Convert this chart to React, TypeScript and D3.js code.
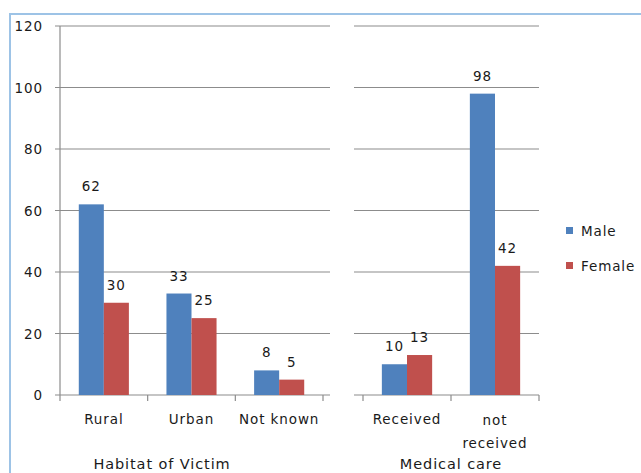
import React from "react";
import * as d3 from "d3";

// Victim counts by sex, in two panels
const habitatCategories = ["Rural", "Urban", "Not known"];
const habitatMale = [62, 33, 8];
const habitatFemale = [30, 25, 5];

const careCategories = ["Received", "not received"];
const careMale = [10, 98];
const careFemale = [13, 42];

const seriesNames = ["Male", "Female"];
const seriesColors = ["#4F81BD", "#C0504D"];
const yTicks = [0, 20, 40, 60, 80, 100, 120];

const W = 641;
const H = 473;
const FONT = "'DejaVu Sans', sans-serif";
const GRID = "#8c8c8c";

const y = d3.scaleLinear().domain([0, 120]).range([395, 26]);

type Panel = {
  cats: string[];
  male: number[];
  female: number[];
  bandRange: [number, number];
  gridRange: [number, number];
  title: string;
  titleX: number;
  yAxis: boolean;
};

const panels: Panel[] = [
  {
    cats: habitatCategories,
    male: habitatMale,
    female: habitatFemale,
    bandRange: [60, 323],
    gridRange: [55, 330],
    title: "Habitat of Victim",
    titleX: 162,
    yAxis: true,
  },
  {
    cats: careCategories,
    male: careMale,
    female: careFemale,
    bandRange: [363, 539],
    gridRange: [354, 539],
    title: "Medical care",
    titleX: 451,
    yAxis: false,
  },
];

const labelStyle = {
  fontFamily: FONT,
  fontSize: 13.5,
  letterSpacing: 0.9,
  fill: "#1a1a1a",
} as const;

function PanelView({ p }: { p: Panel }) {
  const x = d3.scaleBand().domain(p.cats).range(p.bandRange).paddingInner(0).paddingOuter(0);
  const bw = x.bandwidth();
  const barW = bw / 3.5;
  const inner = d3.scaleBand().domain(seriesNames).range([-barW, barW]);
  const values = [p.male, p.female];
  const boundaries = [...p.cats.map((c) => x(c) as number), p.bandRange[1]];

  return (
    <g>
      {/* gridlines */}
      {yTicks.map((t) => (
        <line
          key={t}
          x1={p.gridRange[0]}
          x2={p.gridRange[1]}
          y1={y(t)}
          y2={y(t)}
          stroke={GRID}
          strokeWidth={1.2}
        />
      ))}
      {/* y axis */}
      {p.yAxis && (
        <g>
          <line x1={60} x2={60} y1={y(120)} y2={y(0)} stroke={GRID} strokeWidth={1.2} />
          {yTicks.map((t) => (
            <text
              key={t}
              x={43}
              y={y(t)}
              textAnchor="end"
              dominantBaseline="central"
              style={labelStyle}
            >
              {t}
            </text>
          ))}
        </g>
      )}
      {/* category ticks */}
      {boundaries.map((bx, i) => (
        <line key={i} x1={bx} x2={bx} y1={y(0)} y2={y(0) + 6} stroke={GRID} strokeWidth={1.2} />
      ))}
      {/* bars and value labels */}
      {p.cats.map((c, ci) => {
        const cx = (x(c) as number) + bw / 2;
        return (
          <g key={c}>
            {seriesNames.map((s, si) => {
              const v = values[si][ci];
              const bx = cx + (inner(s) as number);
              return (
                <g key={s}>
                  <rect
                    x={bx}
                    y={y(v)}
                    width={inner.bandwidth()}
                    height={y(0) - y(v)}
                    fill={seriesColors[si]}
                  />
                  <text
                    x={bx + inner.bandwidth() / 2}
                    y={y(v) - 18}
                    textAnchor="middle"
                    dominantBaseline="central"
                    style={labelStyle}
                  >
                    {v}
                  </text>
                </g>
              );
            })}
            {c === "not received" ? (
              <text textAnchor="middle" style={labelStyle}>
                <tspan x={cx} y={420} dominantBaseline="central">not</tspan>
                <tspan x={cx} y={443} dominantBaseline="central">received</tspan>
              </text>
            ) : (
              <text x={cx} y={419} textAnchor="middle" dominantBaseline="central" style={labelStyle}>
                {c}
              </text>
            )}
          </g>
        );
      })}
      <text
        x={p.titleX}
        y={464}
        textAnchor="middle"
        dominantBaseline="central"
        style={{ ...labelStyle, fontSize: 14.5 }}
      >
        {p.title}
      </text>
    </g>
  );
}

export default function App() {
  return (
    <svg
      width={W}
      height={H}
      style={{ position: "absolute", left: 0, top: 0, background: "#fff" }}
    >
      <rect width={W} height={H} fill="#fff" />
      {/* chart frame */}
      <path d={`M10,${H + 5} V14 H${W + 5}`} fill="none" stroke="#9DC3E6" strokeWidth={2} />
      {panels.map((p, i) => (
        <PanelView key={i} p={p} />
      ))}
      {/* legend */}
      {seriesNames.map((s, i) => (
        <g key={s} transform={`translate(566, ${227 + i * 35})`}>
          <rect x={0} y={0} width={7} height={7} fill={seriesColors[i]} />
          <text x={15} y={4} dominantBaseline="central" style={labelStyle}>
            {s}
          </text>
        </g>
      ))}
    </svg>
  );
}
